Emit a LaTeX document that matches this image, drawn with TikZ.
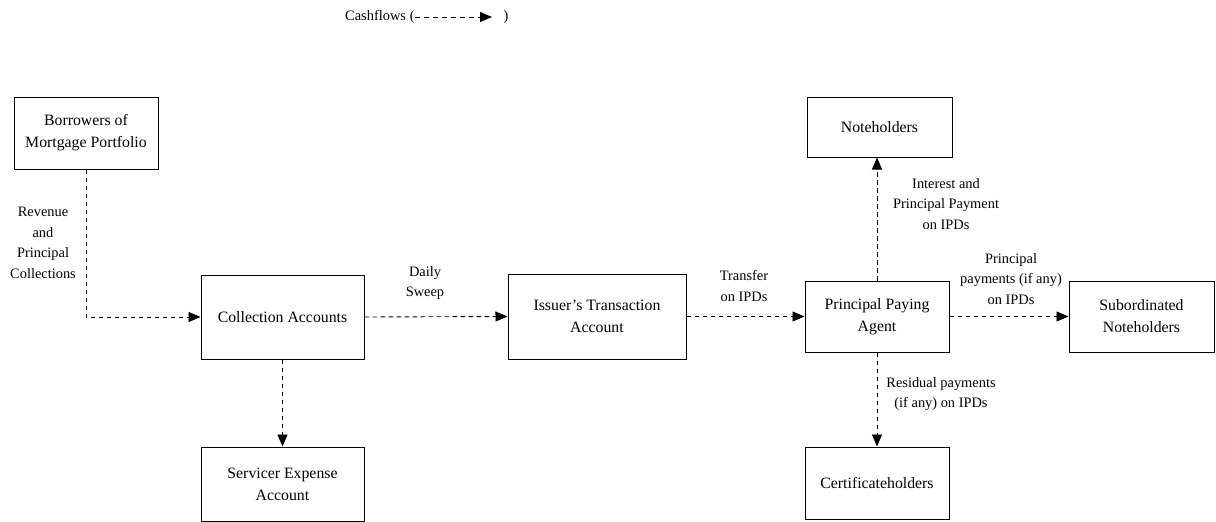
\documentclass[tikz,border=0pt]{standalone}
\usepackage{fontspec}
\setmainfont{Liberation Serif}
\usetikzlibrary{arrows.meta}
\begin{document}
\begin{tikzpicture}[x=1pt,y=-1pt,
  box/.style={draw,line width=1pt,rectangle,align=center,inner sep=0pt,
    font=\fontsize{15.8}{22}\selectfont},
  lbl/.style={align=center,font=\fontsize{14.4}{20.5}\selectfont,inner sep=0pt},
  flow/.style={line width=0.9pt,dash pattern=on 4.5pt off 3.5pt,
    -{Triangle[length=12pt,width=10pt]}}]
\useasboundingbox (0,0) rectangle (1216,522);
% legend
\node[lbl,anchor=west] (leg) at (345,17) {Cashflows\hspace{4pt}(};
\coordinate (l1) at (leg.east);
\coordinate (l2) at (492,17);
\draw[flow,dash pattern=on 5pt off 4pt] (l1) -- (l2);
\node[lbl] (legr) at (506,17) {)};
% boxes
\node[box,minimum width=144pt,minimum height=72pt] (bor) at (86,133) {Borrowers of\\Mortgage Portfolio};
\node[box,minimum width=163pt,minimum height=84pt] (col) at (282.5,317) {Collection Accounts};
\node[box,minimum width=178pt,minimum height=85pt] (iss) at (597,316.5) {Issuer's Transaction\\Account};
\node[box,minimum width=144pt,minimum height=71pt] (ppa) at (877,316.5) {Principal Paying\\Agent};
\node[box,minimum width=145pt,minimum height=60pt] (note) at (879.5,127) {Noteholders};
\node[box,minimum width=145pt,minimum height=71pt] (sub) at (1141.5,316.5) {Subordinated\\Noteholders};
\node[box,minimum width=144pt,minimum height=72pt] (cert) at (877,483) {Certificateholders};
\node[box,minimum width=163pt,minimum height=74pt] (serv) at (282.5,484) {Servicer Expense\\Account};
% connectors
\draw[flow] (bor.south) |- (col.west);
\draw[flow] (col.east) -- (iss.west);
\draw[flow] (iss.east) -- (ppa.west);
\draw[flow] (ppa.north) -- (ppa.north |- note.south);
\draw[flow] (ppa.east) -- (sub.west);
\draw[flow] (ppa.south) -- (cert.north);
\draw[flow] (col.south) -- (serv.north);
% labels
\node[lbl] (t1) at (43,243) {Revenue\\and\\Principal\\Collections};
\node[lbl] (t2) at (425,283) {Daily\\Sweep};
\node[lbl] (t3) at (744,286) {Transfer\\on IPDs};
\node[lbl] (t4) at (946,204) {Interest and\\Principal Payment\\on IPDs};
\node[lbl] (t5) at (1011,279) {Principal\\payments (if any)\\on IPDs};
\node[lbl] (t6) at (941,394) {Residual payments\\(if any) on IPDs};
\end{tikzpicture}
\end{document}
